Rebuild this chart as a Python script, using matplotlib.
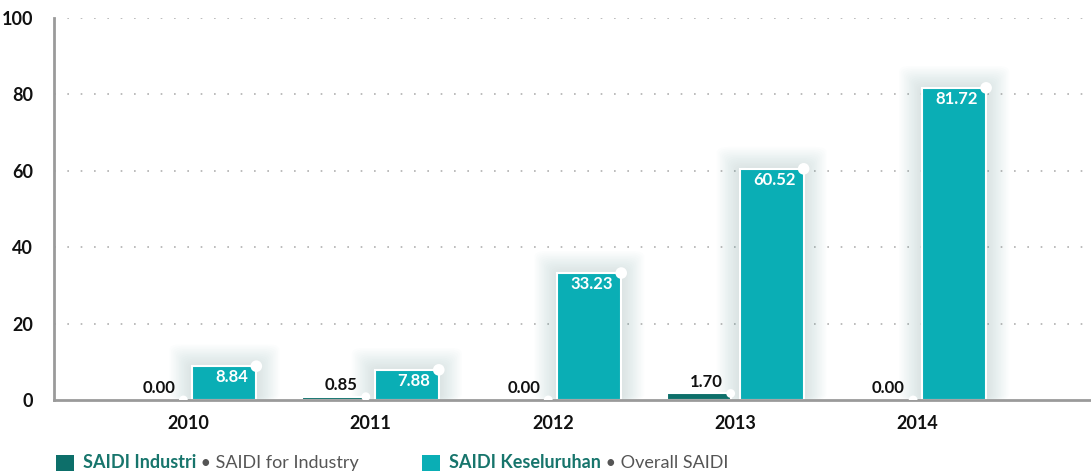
import numpy as np
import matplotlib.pyplot as plt
from matplotlib.patches import Rectangle, FancyBboxPatch

plt.rcParams['font.family'] = ['Lato', 'DejaVu Sans']

years = ["2010", "2011", "2012", "2013", "2014"]
saidi_industri = [0.00, 0.85, 0.00, 1.70, 0.00]
saidi_total = [8.84, 7.88, 33.23, 60.52, 81.72]
labels_industri = ["0.00", "0.85", "0.00", "1.70", "0.00"]
labels_total = ["8.84", "7.88", "33.23", "60.52", "81.72"]

dark = "#0d6f6a"
teal = "#0aaeb5"

fig = plt.figure(figsize=(10.91, 4.75), dpi=100)
ax = fig.add_axes([0.0495, 0.158, 0.9505, 0.804])

x = np.arange(len(years))
w = 0.35
off = 0.2

# soft glow behind the teal bars
for xi, v in zip(x + off, saidi_total):
    for k in range(14):
        px = 0.01 + k * 0.009
        py = 0.3 + k * 0.42
        ax.add_patch(FancyBboxPatch((xi - w / 2 - px, 0), w + 2 * px, v + py,
                                    boxstyle="round,pad=0,rounding_size=0.06",
                                    mutation_aspect=25,
                                    facecolor="#3d8c8c", alpha=0.012, edgecolor="none",
                                    zorder=1, clip_on=False))

ax.bar(x - off, saidi_industri, width=w, color=dark, edgecolor="white", linewidth=1.5, zorder=3)
ax.bar(x + off, saidi_total, width=w, color=teal, edgecolor="white", linewidth=1.5, zorder=3)

# white dots on bar corners
ax.scatter(x + off + w / 2, saidi_total, s=70, color="white", zorder=5, edgecolor="none")
ax.scatter(x - off + w / 2, saidi_industri, s=40, color="white", zorder=5, edgecolor="none")

for xi, v, t in zip(x - off, saidi_industri, labels_industri):
    ax.text(xi + w / 2 - 0.045, v + 1.0, t, ha="right", va="bottom",
            fontsize=12, fontweight="bold", color="#111111", zorder=6)
for xi, v, t in zip(x + off, saidi_total, labels_total):
    ax.text(xi + w / 2 - 0.045, v - 0.8, t, ha="right", va="top",
            fontsize=12, fontweight="bold", color="white", zorder=6)

ax.set_xlim(-0.734, 4.95)
ax.set_ylim(0, 100)
ax.set_yticks([0, 20, 40, 60, 80, 100])
ax.set_xticks(x)
ax.set_xticklabels(years)
ax.tick_params(axis="both", length=0, labelsize=13)
ax.tick_params(axis="y", pad=15)
ax.tick_params(axis="x", pad=11)
for lab in ax.get_xticklabels() + ax.get_yticklabels():
    lab.set_fontweight("bold")
    lab.set_color("#111111")

for gy in [20, 40, 60, 80, 100]:
    ax.axhline(gy, color="#b0b0b0", linestyle=(0, (1, 7)), linewidth=1.2, zorder=0)

for s in ["top", "right"]:
    ax.spines[s].set_visible(False)
ax.spines["left"].set_color("#9a9a9a")
ax.spines["bottom"].set_color("#9a9a9a")
ax.spines["left"].set_linewidth(2)
ax.spines["bottom"].set_linewidth(2)
ax.spines["bottom"].set_zorder(4)

# legend
fig.patches.append(Rectangle((56 / 1091, 1 - 471 / 475), 18 / 1091, 16 / 475,
                             transform=fig.transFigure, facecolor=dark, edgecolor="none"))
fig.patches.append(Rectangle((422 / 1091, 1 - 471 / 475), 18 / 1091, 16 / 475,
                             transform=fig.transFigure, facecolor=teal, edgecolor="none"))

t1 = fig.text(83 / 1091, 1 - 463 / 475, "SAIDI Industri", fontsize=13, fontweight="bold",
              color="#17756c", va="center")
ax.annotate(" \u2022 SAIDI for Industry", xy=(1, 0.5), xycoords=t1, va="center",
            fontsize=13, color="#555555", annotation_clip=False)
t2 = fig.text(449 / 1091, 1 - 463 / 475, "SAIDI Keseluruhan", fontsize=13, fontweight="bold",
              color="#17756c", va="center")
ax.annotate(" \u2022 Overall SAIDI", xy=(1, 0.5), xycoords=t2, va="center",
            fontsize=13, color="#555555", annotation_clip=False)

fig.savefig("out.png", dpi=100)
